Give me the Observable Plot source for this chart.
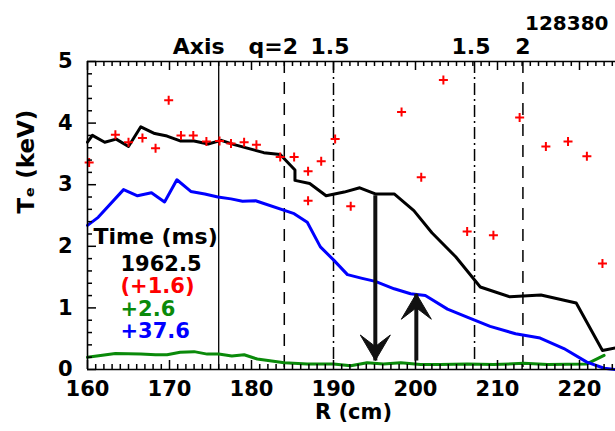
<!DOCTYPE html>
<html><head><meta charset="utf-8">
<script src="https://cdn.jsdelivr.net/npm/d3@7"></script>
<script src="https://cdn.jsdelivr.net/npm/@observablehq/plot@0.6"></script>
<style>
html,body{margin:0;padding:0;background:#fff;overflow:hidden;}
</style></head><body><div id="chart"></div>
<script>
// ---- data (R in cm, Te in keV) ----
const blackR = [160.0, 160.6, 162.1, 163.5, 165.0, 166.5, 168.2, 169.7, 171.3, 173.0, 174.7, 176.3, 177.9, 181.5, 183.5, 185.3, 185.3, 187.1, 189.1, 191.3, 193.2, 195.1, 197.4, 199.8, 202.0, 204.9, 207.9, 211.5, 215.3, 219.6, 222.8, 224.4];
const blackT = [3.69, 3.80, 3.69, 3.74, 3.62, 3.94, 3.83, 3.79, 3.71, 3.71, 3.66, 3.72, 3.65, 3.52, 3.49, 3.24, 3.07, 3.02, 2.82, 2.88, 2.95, 2.85, 2.85, 2.58, 2.22, 1.83, 1.34, 1.18, 1.21, 1.08, 0.31, 0.35];

const blueR = [160.0, 161.3, 164.4, 166.1, 167.8, 169.4, 170.9, 172.6, 174.3, 175.9, 177.5, 178.9, 180.5, 185.2, 186.8, 188.4, 190.0, 191.7, 193.5, 195.1, 197.4, 199.4, 201.2, 203.9, 206.3, 209.1, 212.2, 215.2, 218.1, 220.9, 223.0, 224.4];
const blueT = [2.34, 2.47, 2.92, 2.82, 2.87, 2.72, 3.08, 2.89, 2.85, 2.80, 2.77, 2.73, 2.74, 2.53, 2.39, 1.99, 1.78, 1.54, 1.48, 1.43, 1.31, 1.23, 1.20, 0.98, 0.85, 0.70, 0.58, 0.51, 0.34, 0.12, 0.02, 0.0];

const greenR = [160.0, 163.4, 166.5, 168.3, 169.7, 171.3, 173.0, 174.6, 176.0, 177.6, 179.1, 180.7, 184.0, 186.8, 190.0, 192.1, 194.1, 196.1, 198.2, 200.6, 203.0, 206.3, 209.5, 213.2, 216.1, 220.9, 223.0];
const greenT = [0.20, 0.26, 0.25, 0.24, 0.24, 0.28, 0.29, 0.25, 0.25, 0.22, 0.24, 0.17, 0.11, 0.09, 0.09, 0.06, 0.11, 0.09, 0.11, 0.08, 0.08, 0.09, 0.08, 0.10, 0.08, 0.09, 0.23];

const redR = [160.2, 163.4, 165.0, 166.7, 168.3, 169.9, 171.4, 172.9, 174.5, 176.1, 177.5, 179.1, 180.6, 183.5, 185.2, 186.9, 186.9, 188.5, 190.2, 192.1, 198.3, 200.7, 203.4, 206.3, 209.5, 212.7, 215.9, 218.6, 220.9, 222.8];
const redT = [3.36, 3.81, 3.69, 3.76, 3.59, 4.37, 3.80, 3.80, 3.70, 3.71, 3.67, 3.69, 3.65, 3.45, 3.45, 3.22, 2.74, 3.38, 3.74, 2.65, 4.18, 3.12, 4.70, 2.24, 2.18, 4.09, 3.62, 3.70, 3.46, 1.72];

// reference surfaces
const axisR = [176.0];
const q2R = [184.0, 213.1];
const q15R = [190.0, 207.2];

// arrows
const arrowR = [195.1, 200.1];
const arrowFrom = [2.83, 0.146];
const arrowTo = [0.146, 1.23];
const arrowRotate = [0, 180];

// ticks & labels
const xMajor = [160, 170, 180, 190, 200, 210, 220];
const yMajor = [0, 1, 2, 3, 4, 5];
const legendLines = ["Time (ms)", "1962.5", "(+1.6)", "+2.6", "+37.6"];
const legendColors = ["#000", "#000", "#ff0000", "#0a8a0a", "#0000ff"];
const shotLabel = "128380";

// ---- layout ----
const W = 615, H = 431, mL = 87, mT = 61, mB = 62, mR = 0;
const plotW = W - mL - mR, plotH = H - mT - mB;
const xMinor = d3.range(161, 225).filter(v => v % 10 !== 0);
const yMinor = d3.range(1, 25).filter(i => i % 5 !== 0).map(i => i / 5);
const xPerPx = 1 / 8.2;          // cm per pixel
const yPerPx = 5 / plotH;        // keV per pixel

const plusSym = {draw(ctx, size) {
  const r = Math.sqrt(size / Math.PI);
  ctx.moveTo(-r, 0); ctx.lineTo(r, 0); ctx.moveTo(0, -r); ctx.lineTo(0, r);
}};
const headSym = {draw(ctx, size) {
  const r = Math.sqrt(size / Math.PI), h = r * 1.7;
  ctx.moveTo(0, 0); ctx.lineTo(-r, -h); ctx.lineTo(0, -h * 0.55); ctx.lineTo(r, -h); ctx.closePath();
}};

const arrows = arrowR.map((r, i) => ({R: r, from: arrowFrom[i], to: arrowTo[i], rot: arrowRotate[i]}));
const font = "DejaVu Sans";

const tickStyle = {stroke: "#000", strokeWidth: 1.5};
const minLen = 5, majLen = 9;
const marks = [
  // reference vertical lines
  Plot.ruleX(axisR, {x: d => d, stroke: "#000", strokeWidth: 1.3}),
  Plot.ruleX(q2R, {x: d => d, stroke: "#000", strokeWidth: 1.5, strokeDasharray: "12,9"}),
  Plot.ruleX(q15R, {x: d => d, stroke: "#000", strokeWidth: 1.5, strokeDasharray: "12,4,2,4"}),
  // profiles
  Plot.line(greenR, {x: d => d, y: (d, i) => greenT[i], stroke: "#0a8a0a", strokeWidth: 3}),
  Plot.line(blueR, {x: d => d, y: (d, i) => blueT[i], stroke: "#0000ff", strokeWidth: 3}),
  Plot.line(blackR, {x: d => d, y: (d, i) => blackT[i], stroke: "#000", strokeWidth: 3}),
  Plot.dot(redR, {x: d => d, y: (d, i) => redT[i], symbol: plusSym, r: 4.5, stroke: "#ff0000", fill: "none", strokeWidth: 2}),
  // arrows
  Plot.link(arrows, {x1: "R", x2: "R", y1: "from", y2: "to", stroke: "#111", strokeWidth: 4}),
  Plot.dot(arrows, {x: "R", y: "to", rotate: "rot", symbol: headSym, r: 15, fill: "#111", stroke: "#111", strokeWidth: 1}),
  // frame
  Plot.ruleY([0, 5], {y: d => d, stroke: "#000", strokeWidth: 1.6}),
  Plot.ruleX([160], {x: d => d, stroke: "#000", strokeWidth: 1.6}),
  // ticks (inward)
  Plot.ruleX(xMinor, {x: d => d, y1: 0, y2: minLen * yPerPx, ...tickStyle}),
  Plot.ruleX(xMinor, {x: d => d, y1: 5, y2: 5 - minLen * yPerPx, ...tickStyle}),
  Plot.ruleX(xMajor, {x: d => d, y1: 0, y2: majLen * yPerPx, ...tickStyle}),
  Plot.ruleX(xMajor, {x: d => d, y1: 5, y2: 5 - majLen * yPerPx, ...tickStyle}),
  Plot.ruleY(yMinor, {y: d => d, x1: 160, x2: 160 + minLen * xPerPx, ...tickStyle}),
  Plot.ruleY(yMajor, {y: d => d, x1: 160, x2: 160 + majLen * xPerPx, ...tickStyle}),
  // axes labels
  Plot.axisX(xMajor, {tickSize: 0, tickPadding: 12, tickFormat: d => String(d), fontSize: 21, fontWeight: "bold", label: null}),
  Plot.axisY(yMajor, {tickSize: 0, tickPadding: 15, tickFormat: d => String(d), fontSize: 21, fontWeight: "bold", label: null}),
  Plot.text(["R (cm)"], {frameAnchor: "bottom", dx: 2, dy: 49, lineAnchor: "bottom", fontSize: 21, fontWeight: "bold"}),
  Plot.text(["T\u2091 (keV)"], {frameAnchor: "left", dx: -54, dy: -2, rotate: -90, lineAnchor: "bottom", fontSize: 23, fontWeight: "bold"}),
  // top labels
  Plot.text(axisR, {x: d => d, text: () => "Axis", frameAnchor: "top", dx: -20, dy: -8, lineAnchor: "bottom", fontSize: 22, fontWeight: "bold"}),
  Plot.text(q2R.slice(0, 1), {x: d => d, text: () => "q=2", frameAnchor: "top", dx: -11, dy: -8, lineAnchor: "bottom", fontSize: 22, fontWeight: "bold"}),
  Plot.text(q2R.slice(1), {x: d => d, text: () => "2", frameAnchor: "top", dx: 0, dy: -8, lineAnchor: "bottom", fontSize: 22, fontWeight: "bold"}),
  Plot.text(q15R, {x: d => d, text: () => "1.5", frameAnchor: "top", dx: -3.5, dy: -8, lineAnchor: "bottom", fontSize: 22, fontWeight: "bold"}),
  Plot.text([shotLabel], {frameAnchor: "top-right", dx: -7, dy: -32, textAnchor: "end", lineAnchor: "bottom", fontSize: 20, fontWeight: "bold"}),
  // legend
  ...legendLines.map((t, i) => Plot.text([t], {
    frameAnchor: "top-left", textAnchor: "start", lineAnchor: "bottom",
    dx: i === 0 ? 6 : 33, dy: [182, 209, 231, 254, 276][i],
    fill: legendColors[i], fontSize: i === 0 ? 22 : 21, fontWeight: "bold"
  }))
];

const chart = Plot.plot({
  width: W, height: H,
  marginLeft: mL, marginRight: mR, marginTop: mT, marginBottom: mB,
  x: {domain: [160, 160 + plotW / 8.2]},
  y: {domain: [0, 5]},
  style: {fontFamily: font, fontWeight: "bold", fontSize: "21px", color: "#000", background: "#fff"},
  marks
});
document.getElementById("chart").appendChild(chart);
</script></body></html>
